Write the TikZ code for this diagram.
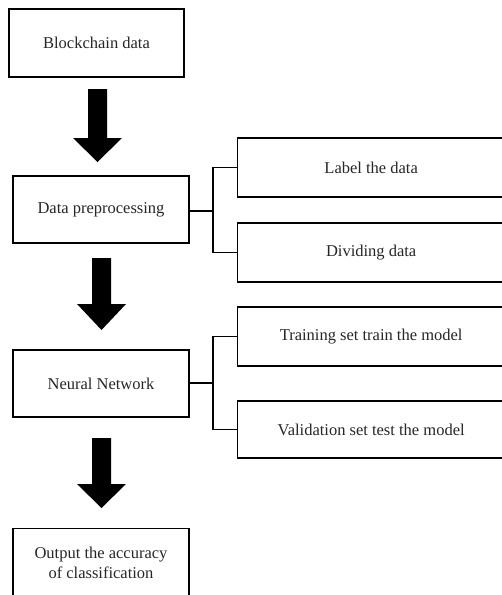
\documentclass[tikz,border=0pt]{standalone}
\usepackage{fontspec}
\setmainfont{Liberation Serif}
\begin{document}
\begin{tikzpicture}[x=1pt,y=-1pt,
  box/.style={draw, line width=1.3pt, rectangle, inner sep=0pt, align=center,
    text=black!85, font=\fontsize{16.5}{20}\selectfont},
  conn/.style={line width=1.3pt},
  bigarrow/.style={fill=black}]
\useasboundingbox (0,0) rectangle (502,595);
\clip (0,0) rectangle (502,595);
% main column
\node[box, minimum width=175, minimum height=68] (bc) at (96.5,43) {Blockchain data};
\node[box, minimum width=176, minimum height=67] (pre) at (101,209.5) {Data preprocessing};
\node[box, minimum width=176, minimum height=67] (nn) at (101,383.5) {Neural Network};
\node[box, minimum width=176, minimum height=92, anchor=north] (out) at (101,528) {};
\node[align=center, inner sep=0pt, text=black!85, font=\fontsize{16.5}{20}\selectfont] (outtext)
  at ([yshift=-35]out.north) {Output the accuracy\\of classification};
% side boxes
\node[box, minimum width=267, minimum height=59, anchor=west] (lab) at (237,167.5) {Label the data};
\node[box, minimum width=267, minimum height=59, anchor=west] (div) at (237,252.5) {Dividing data};
\node[box, minimum width=267, minimum height=59, anchor=west] (tr) at (237,336.5) {Training set train the model};
\node[box, minimum width=267, minimum height=57, anchor=west] (val) at (237,429.5) {Validation set test the model};
% brackets
\coordinate (b1) at (213,211);
\draw[conn] (pre.east |- b1) -- (b1);
\draw[conn] (lab.west) -| (b1) |- (div.west);
\coordinate (b2) at (213,383);
\draw[conn] (nn.east |- b2) -- (b2);
\draw[conn] (tr.west) -| (b2) |- (val.west);
% big arrows
\fill[bigarrow] (88,89) -- (107,89) -- (107,138) -- (122,138) -- (97.5,162) -- (73,138) -- (88,138) -- cycle;
\fill[bigarrow] (92,258) -- (111,258) -- (111,304) -- (126,304) -- (101.5,330) -- (77,304) -- (92,304) -- cycle;
\fill[bigarrow] (92,438) -- (111,438) -- (111,484) -- (126,484) -- (101.5,508) -- (77,484) -- (92,484) -- cycle;
\end{tikzpicture}
\end{document}
